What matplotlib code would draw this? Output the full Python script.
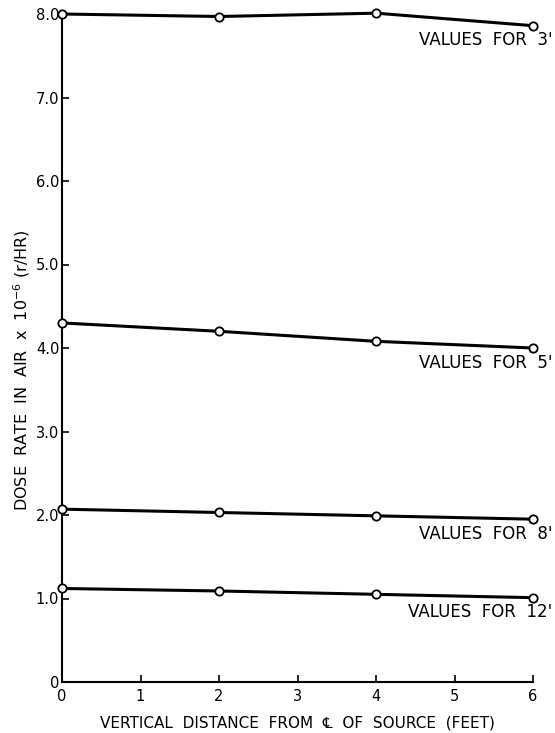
import matplotlib
matplotlib.use("Agg")
import matplotlib.pyplot as plt

# Data
distance_ft = [0, 2, 4, 6]
series_labels = ["VALUES FOR 3'", "VALUES FOR 5'", "VALUES FOR 8'", "VALUES FOR 12'"]
values_3ft = [8.00, 7.97, 8.01, 7.86]
values_5ft = [4.30, 4.20, 4.08, 4.00]
values_8ft = [2.07, 2.03, 1.99, 1.95]
values_12ft = [1.12, 1.09, 1.05, 1.01]
y_ticks = [0, 1, 2, 3, 4, 5, 6, 7, 8]
y_tick_labels = ["0", "1.0", "2.0", "3.0", "4.0", "5.0", "6.0", "7.0", "8.0"]
x_ticks = [0, 1, 2, 3, 4, 5, 6]
x_tick_labels = ["0", "1", "2", "3", "4", "5", "6"]

plt.rcParams['font.family'] = ['DejaVu Sans', 'Noto Sans CJK SC']

W, H = 555, 733
fig = plt.figure(figsize=(W / 100, H / 100), dpi=100)
ax = fig.add_axes([62 / W, (H - 682) / H, 471 / W, 668 / H])

for vals, lab in zip([values_3ft, values_5ft, values_8ft, values_12ft], series_labels):
    ax.plot(distance_ft, vals, color='black', lw=2.2, marker='o', ms=6,
            mfc='white', mec='black', mew=1.3, clip_on=False, zorder=3)
    ax.annotate(lab.replace(" ", "  "), xy=(distance_ft[-1], vals[-1]), xytext=(14, -10.5),
                textcoords='offset points', ha='right', va='center',
                fontsize=12, color='black')

ax.set_xlim(0, 6)
ax.set_ylim(0, 8)
ax.set_xticks(x_ticks)
ax.set_xticklabels(x_tick_labels)
ax.set_yticks(y_ticks)
ax.set_yticklabels(y_tick_labels)
ax.tick_params(axis='both', direction='in', length=5, width=1.2, colors='black')
ax.tick_params(axis='y', labelsize=10.5, pad=2)
ax.tick_params(axis='x', labelsize=10.5, pad=5)
for s in ['top', 'right']:
    ax.spines[s].set_visible(False)
for s in ['left', 'bottom']:
    ax.spines[s].set_linewidth(1.5)

ax.set_xlabel("VERTICAL  DISTANCE  FROM  \u2104  OF  SOURCE  (FEET)", fontsize=11, labelpad=8)
fig.text(22 / W, 1 - 370 / H, "DOSE  RATE  IN  AIR  x  10$^{-6}$ (r/HR)",
         rotation=90, ha='center', va='center', fontsize=11.5)

fig.savefig("out.png", dpi=100)
